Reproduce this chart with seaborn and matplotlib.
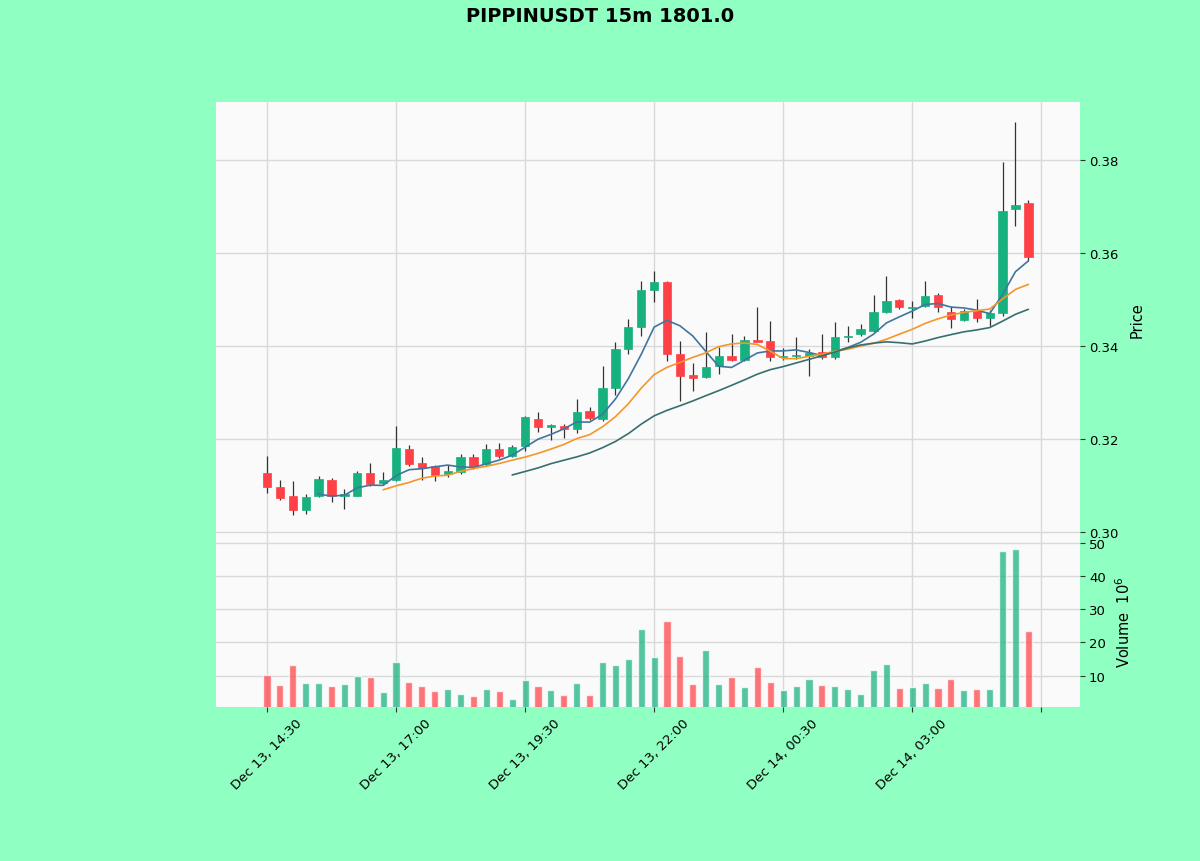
import numpy as np
import pandas as pd
import matplotlib
matplotlib.use("Agg")
import matplotlib.pyplot as plt
import seaborn as sns

# ---------------- data ----------------
start_time = "2024-12-13 14:30"
n_candles = 60

opens = [0.3127, 0.3097, 0.3077, 0.3047, 0.3077, 0.3112, 0.3077, 0.3077, 0.3127, 0.3105,
         0.3112, 0.3178, 0.3148, 0.3142, 0.3125, 0.3129, 0.3161, 0.3146, 0.3178, 0.3163,
         0.3185, 0.3243, 0.3226, 0.3228, 0.3222, 0.3260, 0.3243, 0.3310, 0.3394, 0.3441,
         0.3520, 0.3538, 0.3383, 0.3338, 0.3333, 0.3357, 0.3378, 0.3370, 0.3413, 0.3411,
         0.3376, 0.3378, 0.3378, 0.3387, 0.3376, 0.3419, 0.3426, 0.3432, 0.3473, 0.3499,
         0.3482, 0.3486, 0.3510, 0.3473, 0.3456, 0.3475, 0.3460, 0.3471, 0.3695, 0.3708]
highs = [0.3163, 0.3112, 0.3110, 0.3082, 0.3120, 0.3116, 0.3092, 0.3131, 0.3148, 0.3129,
         0.3228, 0.3187, 0.3161, 0.3144, 0.3144, 0.3168, 0.3168, 0.3189, 0.3191, 0.3187,
         0.3249, 0.3258, 0.3232, 0.3232, 0.3286, 0.3269, 0.3357, 0.3409, 0.3458, 0.3540,
         0.3561, 0.3540, 0.3411, 0.3363, 0.3430, 0.3398, 0.3426, 0.3422, 0.3484, 0.3454,
         0.3395, 0.3419, 0.3394, 0.3426, 0.3452, 0.3443, 0.3447, 0.3510, 0.3551, 0.3501,
         0.3497, 0.3540, 0.3514, 0.3486, 0.3480, 0.3501, 0.3477, 0.3796, 0.3882, 0.3714]
lows = [0.3084, 0.3069, 0.3037, 0.3039, 0.3075, 0.3065, 0.3049, 0.3077, 0.3099, 0.3101,
        0.3110, 0.3142, 0.3112, 0.3110, 0.3118, 0.3125, 0.3135, 0.3142, 0.3159, 0.3161,
        0.3174, 0.3215, 0.3198, 0.3202, 0.3213, 0.3241, 0.3239, 0.3295, 0.3383, 0.3422,
        0.3495, 0.3368, 0.3282, 0.3303, 0.3331, 0.3340, 0.3368, 0.3368, 0.3409, 0.3368,
        0.3370, 0.3372, 0.3335, 0.3372, 0.3372, 0.3409, 0.3422, 0.3430, 0.3471, 0.3480,
        0.3460, 0.3484, 0.3473, 0.3439, 0.3454, 0.3452, 0.3443, 0.3465, 0.3658, 0.3583]
closes = [0.3097, 0.3073, 0.3047, 0.3075, 0.3114, 0.3077, 0.3082, 0.3127, 0.3103, 0.3112,
          0.3181, 0.3146, 0.3138, 0.3123, 0.3131, 0.3161, 0.3140, 0.3178, 0.3163, 0.3183,
          0.3247, 0.3226, 0.3230, 0.3222, 0.3258, 0.3245, 0.3310, 0.3394, 0.3441, 0.3520,
          0.3538, 0.3383, 0.3335, 0.3331, 0.3355, 0.3378, 0.3370, 0.3413, 0.3409, 0.3376,
          0.3379, 0.3381, 0.3385, 0.3376, 0.3419, 0.3422, 0.3437, 0.3473, 0.3497, 0.3484,
          0.3484, 0.3508, 0.3484, 0.3458, 0.3475, 0.3460, 0.3471, 0.3690, 0.3703, 0.3591]
volumes = [10.3, 7.3, 13.3, 7.8, 7.8, 7.0, 7.5, 9.8, 9.5, 5.0,
           14.2, 8.2, 7.0, 5.5, 6.0, 4.5, 4.0, 6.0, 5.3, 3.0,
           8.8, 7.0, 5.8, 4.3, 7.8, 4.3, 14.2, 13.3, 15.0, 24.1,
           15.5, 26.4, 16.0, 7.5, 17.7, 7.5, 9.7, 6.5, 12.5, 8.0,
           5.8, 6.8, 8.9, 7.3, 6.8, 5.9, 4.5, 11.8, 13.5, 6.2,
           6.5, 7.8, 6.3, 8.9, 5.6, 6.0, 5.9, 47.5, 48.1, 23.4]   # x 1e6
mav_windows = [5, 10, 20]
price_ticks = [0.30, 0.32, 0.34, 0.36, 0.38]
volume_ticks = [10, 20, 30, 40, 50]
title_text = "PIPPINUSDT 15m 1801.0"

# ---------------- styling ----------------
fig_bg = "#90ffc2"
ax_bg = "#fafafa"
up_color = "#16b17f"
down_color = "#ff4046"
mav_colors = ["#3f76a0", "#f5962a", "#36706e"]
grid_color = "#d9d9d9"

sns.set_style("whitegrid", {"axes.facecolor": ax_bg, "grid.color": grid_color,
                            "text.color": "black", "axes.labelcolor": "black",
                            "xtick.color": "black", "ytick.color": "black"})
plt.rcParams["font.family"] = ["DejaVu Sans"]

times = pd.date_range(start_time, periods=n_candles, freq="15min")
df = pd.DataFrame({"open": opens, "high": highs, "low": lows, "close": closes,
                   "volume": volumes}, index=times)
df["idx"] = np.arange(n_candles)
df["up"] = df["close"] >= df["open"]
for w in mav_windows:
    df[f"ma{w}"] = df["close"].rolling(w).mean()

fig = plt.figure(figsize=(12, 8.62), dpi=100, facecolor=fig_bg)
ax_p = fig.add_axes([0.18, 0.3765, 0.72, 0.8805 - 0.3765])
ax_v = fig.add_axes([0.18, 0.1787, 0.72, 0.3765 - 0.1787], sharex=ax_p)

for ax in (ax_p, ax_v):
    ax.set_facecolor(ax_bg)
    for s in ax.spines.values():
        s.set_visible(False)
    ax.grid(True, color=grid_color, linewidth=1.0)
    ax.set_axisbelow(True)
    ax.yaxis.tick_right()
    ax.yaxis.set_label_position("right")

colors = np.where(df["up"], up_color, down_color)

# wicks
ax_p.vlines(df["idx"], df["low"], df["high"], color="#333333", linewidth=0.9, zorder=2)
# bodies
body_bottom = np.minimum(df["open"], df["close"])
body_height = np.maximum(np.abs(df["close"] - df["open"]), 0.00025)
ax_p.bar(df["idx"], body_height, bottom=body_bottom, width=0.64, color=colors,
         edgecolor=colors, linewidth=0.5, zorder=3)

# moving averages
for w, c in zip(mav_windows, mav_colors):
    sns.lineplot(x=df["idx"], y=df[f"ma{w}"], ax=ax_p, color=c, linewidth=1.2,
                 zorder=4, legend=False)

# volume
ax_v.bar(df["idx"], df["volume"], width=0.55, color=colors, alpha=0.72, zorder=3)

# axes limits / ticks
ax_p.set_xlim(-3.95, 63.0)
ax_p.set_ylim(0.29903, 0.39247)
ax_v.set_ylim(0.57, 51.9)

ax_p.set_yticks(price_ticks)
ax_p.set_yticklabels([f"{t:.2f}" for t in price_ticks])
ax_v.set_yticks(volume_ticks)
ax_v.set_yticklabels([str(t) for t in volume_ticks])

xt = list(range(0, n_candles + 1, 10))
xlabels = [times[i].strftime("%b %d, %H:%M") if i < n_candles else "" for i in xt]
ax_v.set_xticks(xt)
ax_v.set_xticklabels(xlabels, rotation=45, ha="center")
ax_p.tick_params(axis="x", labelbottom=False, length=0)
ax_p.set_xlabel("")
ax_p.set_ylabel("Price", fontsize=10.5, labelpad=8, color="black")
ax_v.set_xlabel("")
ax_v.set_ylabel("Volume  $10^{6}$", fontsize=10.5, labelpad=6, color="black")

for ax in (ax_p, ax_v):
    ax.tick_params(axis="y", which="both", right=True, left=False, length=3.5,
                   width=0.8, color="#333333", labelsize=9.5, pad=3,
                   labelcolor="black")
ax_v.tick_params(axis="x", bottom=True, length=3.5, width=0.8, color="#333333",
                 labelsize=9.5, pad=3, labelcolor="black")

fig.suptitle(title_text, fontsize=14, fontweight="bold", y=0.992, x=0.5,
             color="black")

fig.savefig("out.png", dpi=100, facecolor=fig_bg)
